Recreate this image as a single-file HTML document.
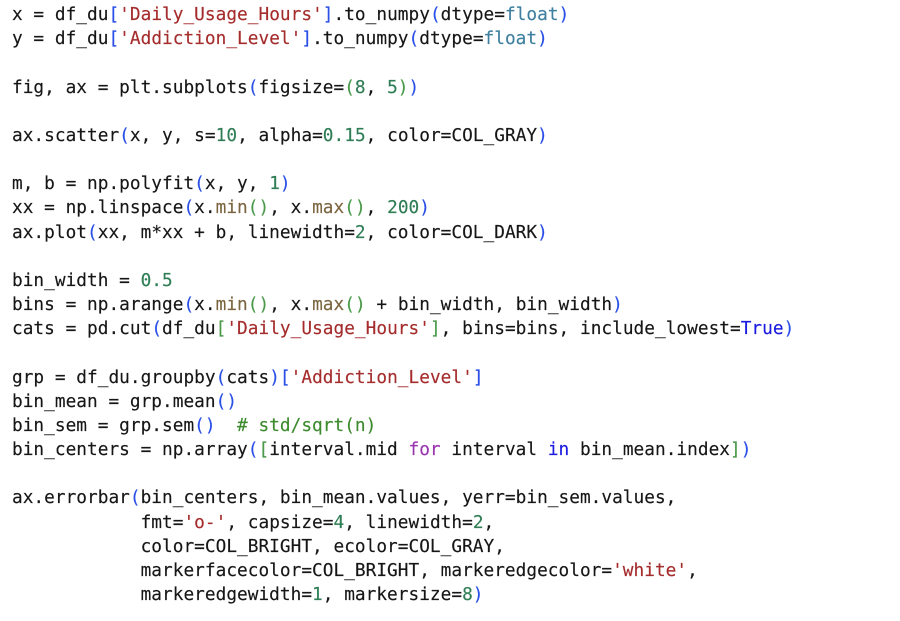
<!DOCTYPE html>
<html>
<head>
<meta charset="utf-8">
<style>
html,body{margin:0;padding:0;background:#fff;width:900px;height:621px;overflow:hidden}
pre{position:absolute;left:12px;top:3px;margin:0;font-family:"DejaVu Sans Mono","Liberation Mono",monospace;font-size:17.77px;letter-spacing:.02px;line-height:24.17px;color:#161616;-webkit-text-stroke:.15px;filter:blur(.35px);white-space:pre}
.s{color:#a52c2c}.n{color:#2f7d55}.b{color:#2a50e8}.g{color:#4a9a4a}.t{color:#3f7f9f}.m{color:#7a6540}.k{color:#1a1ae0}.p{color:#9a35b0}.c{color:#3d8b2f}
</style>
</head>
<body>
<pre>x = df_du<span class="b">[</span><span class="s">'Daily_Usage_Hours'</span><span class="b">]</span>.to_numpy<span class="b">(</span>dtype=<span class="t">float</span><span class="b">)</span>
y = df_du<span class="b">[</span><span class="s">'Addiction_Level'</span><span class="b">]</span>.to_numpy<span class="b">(</span>dtype=<span class="t">float</span><span class="b">)</span>

fig, ax = plt.subplots<span class="b">(</span>figsize=<span class="g">(</span><span class="n">8</span>, <span class="n">5</span><span class="g">)</span><span class="b">)</span>

ax.scatter<span class="b">(</span>x, y, s=<span class="n">10</span>, alpha=<span class="n">0.15</span>, color=COL_GRAY<span class="b">)</span>

m, b = np.polyfit<span class="b">(</span>x, y, <span class="n">1</span><span class="b">)</span>
xx = np.linspace<span class="b">(</span>x.<span class="m">min</span><span class="g">()</span>, x.<span class="m">max</span><span class="g">()</span>, <span class="n">200</span><span class="b">)</span>
ax.plot<span class="b">(</span>xx, m*xx + b, linewidth=<span class="n">2</span>, color=COL_DARK<span class="b">)</span>

bin_width = <span class="n">0.5</span>
bins = np.arange<span class="b">(</span>x.<span class="m">min</span><span class="g">()</span>, x.<span class="m">max</span><span class="g">()</span> + bin_width, bin_width<span class="b">)</span>
cats = pd.cut<span class="b">(</span>df_du<span class="g">[</span><span class="s">'Daily_Usage_Hours'</span><span class="g">]</span>, bins=bins, include_lowest=<span class="k">True</span><span class="b">)</span>

grp = df_du.groupby<span class="b">(</span>cats<span class="b">)[</span><span class="s">'Addiction_Level'</span><span class="b">]</span>
bin_mean = grp.mean<span class="b">()</span>
bin_sem = grp.sem<span class="b">()</span>  <span class="c"># std/sqrt(n)</span>
bin_centers = np.array<span class="b">(</span><span class="g">[</span>interval.mid <span class="p">for</span> interval <span class="k">in</span> bin_mean.index<span class="g">]</span><span class="b">)</span>

ax.errorbar<span class="b">(</span>bin_centers, bin_mean.values, yerr=bin_sem.values,
            fmt=<span class="s">'o-'</span>, capsize=<span class="n">4</span>, linewidth=<span class="n">2</span>,
            color=COL_BRIGHT, ecolor=COL_GRAY,
            markerfacecolor=COL_BRIGHT, markeredgecolor=<span class="s">'white'</span>,
            markeredgewidth=<span class="n">1</span>, markersize=<span class="n">8</span><span class="b">)</span></pre>
</body>
</html>
